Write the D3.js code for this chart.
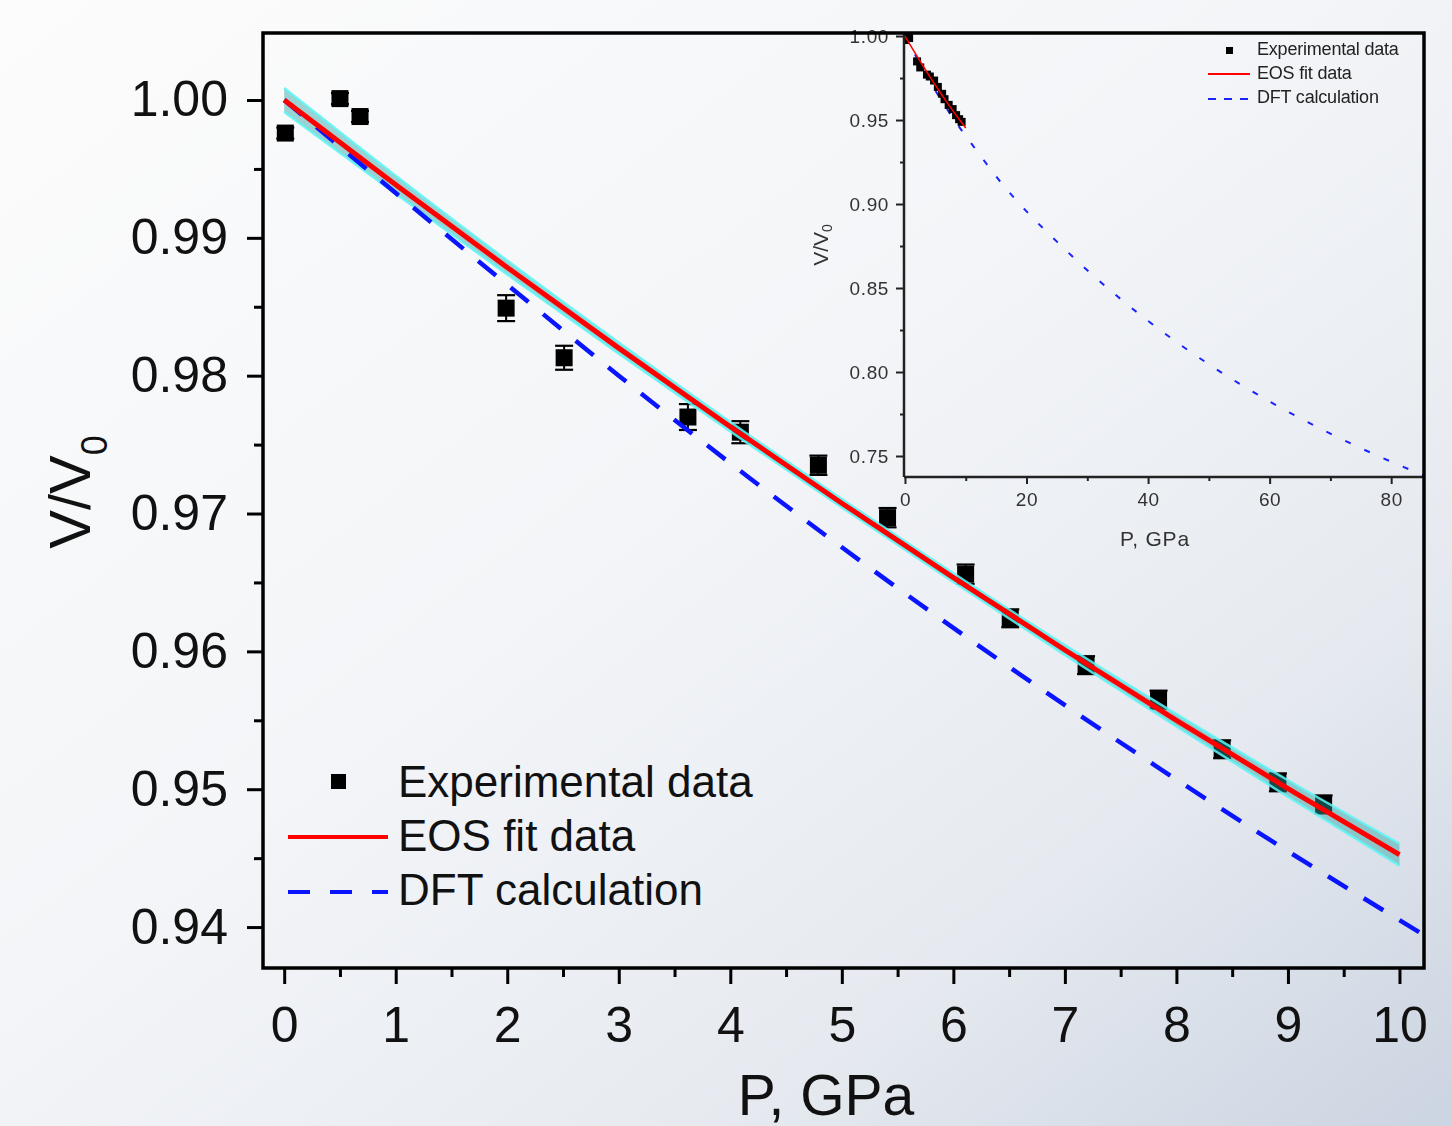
<!DOCTYPE html>
<html>
<head>
<meta charset="utf-8">
<script src="https://cdn.jsdelivr.net/npm/d3@7/dist/d3.min.js"></script>
<style>
  html, body { margin: 0; padding: 0; background: #ffffff; }
  svg { display: block; }
</style>
</head>
<body>
<svg id="chart" width="1452" height="1126"></svg>
<script>
// ---------- data ----------
// experimental compression points (P in GPa, relative volume, 1-sigma error)
const expPressure = [0.01, 0.50, 0.68, 1.99, 2.51, 3.62, 4.09, 4.79, 5.41, 6.11, 6.51, 7.19, 7.84, 8.41, 8.91, 9.32];
const expVolume   = [0.9976, 1.0001, 0.9988, 0.9849, 0.9813, 0.9770, 0.9759, 0.9735, 0.9697, 0.9656, 0.9624, 0.9590, 0.9565, 0.9529, 0.9505, 0.9489];
const expError    = [0.0004, 0.0004, 0.0004, 0.00094, 0.00087, 0.00094, 0.0008, 0.0007, 0.0007, 0.0007, 0.00065, 0.00065, 0.00065, 0.00065, 0.00065, 0.00065];

// equation-of-state fit with its confidence half-width
const fitPressure = [0, 1, 2, 3, 4, 5, 6, 7, 8, 9, 10];
const fitVolume   = [1.0000, 0.99385, 0.98785, 0.98200, 0.97630, 0.97075, 0.96535, 0.96010, 0.95500, 0.95005, 0.94525];
const fitBand     = [0.00087, 0.00066, 0.0005, 0.0004, 0.00034, 0.00031, 0.00032, 0.00036, 0.00045, 0.0006, 0.0008];

// DFT calculated compression curve
const dftPressure = [0, 1, 2, 3, 4, 5, 6, 7, 8, 9, 10, 11, 12, 13, 14, 15, 20, 25, 30, 35, 40, 45, 50, 55, 60, 65, 70, 75, 80, 85, 86];
const dftVolume   = [1.0000, 0.99325, 0.9866, 0.9800, 0.97365, 0.96755, 0.9617, 0.9561, 0.9507, 0.9455, 0.9405,
                     0.9356, 0.9307, 0.9259, 0.9211, 0.9164, 0.8956, 0.8776, 0.8606, 0.8449, 0.8304, 0.8170,
                     0.8046, 0.7931, 0.7824, 0.7725, 0.7633, 0.7547, 0.7466, 0.7390, 0.7375];

// axis ticks
const mainXTicks = [0, 1, 2, 3, 4, 5, 6, 7, 8, 9, 10];
const mainXMinor = [0.5, 1.5, 2.5, 3.5, 4.5, 5.5, 6.5, 7.5, 8.5, 9.5];
const mainYTicks = [0.94, 0.95, 0.96, 0.97, 0.98, 0.99, 1.00];
const mainYMinor = [0.945, 0.955, 0.965, 0.975, 0.985, 0.995];
const insetXTicks = [0, 20, 40, 60, 80];
const insetXMinor = [10, 30, 50, 70];
const insetYTicks = [0.75, 0.80, 0.85, 0.90, 0.95, 1.00];
const insetYMinor = [0.775, 0.825, 0.875, 0.925, 0.975];

const legendLabels = ["Experimental data", "EOS fit data", "DFT calculation"];

// ---------- setup ----------
const FONT = "'Liberation Sans', Arial, Helvetica, sans-serif";
const svg = d3.select("#chart");
const defs = svg.append("defs");

const grad = defs.append("linearGradient").attr("id", "bg")
  .attr("x1", "0").attr("y1", "0").attr("x2", "1").attr("y2", "1");
grad.append("stop").attr("offset", "0").attr("stop-color", "#fcfcfc");
grad.append("stop").attr("offset", "0.45").attr("stop-color", "#f3f5f8");
grad.append("stop").attr("offset", "0.75").attr("stop-color", "#e6eaf0");
grad.append("stop").attr("offset", "1").attr("stop-color", "#cbd4e1");
svg.append("rect").attr("width", 1452).attr("height", 1126).attr("fill", "url(#bg)");

defs.append("filter").attr("id", "soft")
  .append("feGaussianBlur").attr("stdDeviation", 0.45);

// main plot frame
const M = { left: 263, right: 1424, top: 33, bottom: 968 };
const x = d3.scaleLinear().domain([-0.19, 10.22]).range([M.left, M.right]);
const y = d3.scaleLinear().domain([0.93703, 1.00486]).range([M.bottom, M.top]);

defs.append("clipPath").attr("id", "mainClip").append("rect")
  .attr("x", M.left).attr("y", M.top).attr("width", M.right - M.left).attr("height", M.bottom - M.top);

const plot = svg.append("g").attr("clip-path", "url(#mainClip)");

const expData = expPressure.map((p, i) => ({ p, v: expVolume[i], e: expError[i] }));
const fitData = fitPressure.map((p, i) => ({ p, v: fitVolume[i], b: fitBand[i] }));
const dftData = dftPressure.map((p, i) => ({ p, v: dftVolume[i] }));

// experimental points with error bars
const pts = plot.append("g");
expData.forEach(d => {
  const g = pts.append("g");
  const cx = x(d.p), y1 = y(d.v + d.e), y2 = y(d.v - d.e);
  g.append("line").attr("x1", cx).attr("x2", cx).attr("y1", y1).attr("y2", y2)
    .attr("stroke", "#000").attr("stroke-width", 2);
  [y1, y2].forEach(yy => g.append("line").attr("x1", cx - 9).attr("x2", cx + 9)
    .attr("y1", yy).attr("y2", yy).attr("stroke", "#000").attr("stroke-width", 2.2));
  g.append("rect").attr("x", cx - 8.5).attr("y", y(d.v) - 8.5).attr("width", 17).attr("height", 17)
    .attr("fill", "#000");
});

// confidence band of the fit
const band = d3.area().x(d => x(d.p)).y0(d => y(d.v - d.b)).y1(d => y(d.v + d.b)).curve(d3.curveMonotoneX);
plot.append("path").datum(fitData).attr("d", band)
  .attr("fill", "rgb(40,165,165)").attr("fill-opacity", 0.45);
const edgeUp = d3.line().x(d => x(d.p)).y(d => y(d.v + d.b)).curve(d3.curveMonotoneX);
const edgeDn = d3.line().x(d => x(d.p)).y(d => y(d.v - d.b)).curve(d3.curveMonotoneX);
[edgeUp, edgeDn].forEach(fn => plot.append("path").datum(fitData).attr("d", fn)
  .attr("fill", "none").attr("stroke", "#5ff5f5").attr("stroke-width", 2.5).attr("stroke-opacity", 0.85));

// DFT curve
const lineMain = d3.line().x(d => x(d.p)).y(d => y(d.v)).curve(d3.curveMonotoneX);
plot.append("path").datum(dftData.filter(d => d.p <= 12)).attr("d", lineMain)
  .attr("fill", "none").attr("stroke", "#0a14ff").attr("stroke-width", 4.5)
  .attr("stroke-dasharray", "23,19");

// EOS fit curve
plot.append("path").datum(fitData).attr("d", lineMain)
  .attr("fill", "none").attr("stroke", "#ff0000").attr("stroke-width", 5);

// ---------- main axes ----------
const xAxis = svg.append("g").attr("transform", `translate(0,${M.bottom})`)
  .call(d3.axisBottom(x).tickValues(mainXTicks).tickFormat(d3.format("d")).tickSize(16).tickPadding(22));
const xMinor = svg.append("g").attr("transform", `translate(0,${M.bottom})`)
  .call(d3.axisBottom(x).tickValues(mainXMinor).tickFormat("").tickSize(9));
const yAxis = svg.append("g").attr("transform", `translate(${M.left},0)`)
  .call(d3.axisLeft(y).tickValues(mainYTicks).tickFormat(d3.format(".2f")).tickSize(16).tickPadding(19));
const yMinor = svg.append("g").attr("transform", `translate(${M.left},0)`)
  .call(d3.axisLeft(y).tickValues(mainYMinor).tickFormat("").tickSize(9));
[xAxis, xMinor, yAxis, yMinor].forEach(a => {
  a.select(".domain").remove();
  a.selectAll("line").attr("stroke", "#000").attr("stroke-width", 3);
  a.selectAll("text").attr("fill", "#111").style("font-family", FONT).style("font-size", "50px");
});
xAxis.selectAll("text").attr("dy", "0.71em");

// axis titles
svg.append("text").attr("x", 826).attr("y", 1115).attr("text-anchor", "middle")
  .style("font-family", FONT).style("font-size", "57px").attr("fill", "#111").text("P, GPa");
const yt = svg.append("text").attr("transform", "translate(90,492) rotate(-90)").attr("text-anchor", "middle")
  .style("font-family", FONT).style("font-size", "58px").attr("fill", "#111");
yt.append("tspan").text("V/V");
yt.append("tspan").attr("dy", 17).style("font-size", "36px").text("0");

// ---------- main legend ----------
const lg = svg.append("g");
const legendRows = [781, 835, 889];
lg.append("rect").attr("x", 331).attr("y", legendRows[0] - 7).attr("width", 15).attr("height", 15).attr("fill", "#000");
lg.append("line").attr("x1", 288).attr("x2", 388).attr("y1", legendRows[1] + 2).attr("y2", legendRows[1] + 2)
  .attr("stroke", "#ff0000").attr("stroke-width", 4);
lg.append("line").attr("x1", 288).attr("x2", 388).attr("y1", legendRows[2] + 3).attr("y2", legendRows[2] + 3)
  .attr("stroke", "#0a14ff").attr("stroke-width", 4).attr("stroke-dasharray", "22,20");
legendLabels.forEach((t, i) => lg.append("text").attr("x", 398).attr("y", legendRows[i])
  .attr("dy", "0.36em").style("font-family", FONT).style("font-size", "44px").attr("fill", "#111").text(t));

// ---------- inset ----------
const I = { left: 904, right: 1424, top: 33, bottom: 477 };
const xi = d3.scaleLinear().domain([-0.16, 85.4]).range([I.left, I.right]);
const yi = d3.scaleLinear().domain([0.7375, 1.0018]).range([I.bottom, I.top]);

defs.append("clipPath").attr("id", "insetClip").append("rect")
  .attr("x", I.left).attr("y", I.top).attr("width", I.right - I.left).attr("height", I.bottom - I.top);

const inset = svg.append("g").attr("filter", "url(#soft)");
const ip = inset.append("g").attr("clip-path", "url(#insetClip)");
const lineInset = d3.line().x(d => xi(d.p)).y(d => yi(d.v)).curve(d3.curveMonotoneX);

ip.append("path").datum(dftData).attr("d", lineInset)
  .attr("fill", "none").attr("stroke", "#1a22ff").attr("stroke-width", 2).attr("stroke-dasharray", "6,15");
expData.forEach(d => ip.append("rect").attr("x", xi(d.p) - 4).attr("y", yi(d.v) - 4)
  .attr("width", 8).attr("height", 8).attr("fill", "#000"));
ip.append("path").datum(fitData).attr("d", lineInset)
  .attr("fill", "none").attr("stroke", "#ff0000").attr("stroke-width", 1.5);

const ixA = inset.append("g").attr("transform", `translate(0,${I.bottom})`)
  .call(d3.axisBottom(xi).tickValues(insetXTicks).tickFormat(d3.format("d")).tickSize(7).tickPadding(9));
const ixM = inset.append("g").attr("transform", `translate(0,${I.bottom})`)
  .call(d3.axisBottom(xi).tickValues(insetXMinor).tickFormat("").tickSize(4));
const iyA = inset.append("g").attr("transform", `translate(${I.left},0)`)
  .call(d3.axisLeft(yi).tickValues(insetYTicks).tickFormat(d3.format(".2f")).tickSize(8).tickPadding(7));
const iyM = inset.append("g").attr("transform", `translate(${I.left},0)`)
  .call(d3.axisLeft(yi).tickValues(insetYMinor).tickFormat("").tickSize(4));
[ixA, ixM, iyA, iyM].forEach(a => {
  a.select(".domain").remove();
  a.selectAll("line").attr("stroke", "#222").attr("stroke-width", 2);
  a.selectAll("text").attr("fill", "#333").style("font-family", FONT).style("font-size", "19px")
    .style("letter-spacing", "0.6px");
});
inset.append("line").attr("x1", I.left).attr("x2", I.left).attr("y1", I.top).attr("y2", I.bottom)
  .attr("stroke", "#222").attr("stroke-width", 2.5);
inset.append("line").attr("x1", I.left).attr("x2", I.right).attr("y1", I.bottom).attr("y2", I.bottom)
  .attr("stroke", "#222").attr("stroke-width", 2.5);

inset.append("text").attr("x", 1155).attr("y", 546).attr("text-anchor", "middle")
  .style("font-family", FONT).style("font-size", "21px").style("letter-spacing", "0.8px")
  .attr("fill", "#333").text("P, GPa");
const iyt = inset.append("text").attr("transform", "translate(828,245) rotate(-90)").attr("text-anchor", "middle")
  .style("font-family", FONT).style("font-size", "21px").attr("fill", "#333");
iyt.append("tspan").text("V/V");
iyt.append("tspan").attr("dy", 4).style("font-size", "14px").text("0");

// inset legend
const il = inset.append("g");
const iRows = [49, 73, 97];
il.append("rect").attr("x", 1226).attr("y", iRows[0] - 2).attr("width", 7).attr("height", 7).attr("fill", "#000");
il.append("line").attr("x1", 1208).attr("x2", 1250).attr("y1", iRows[1] + 1).attr("y2", iRows[1] + 1)
  .attr("stroke", "#ff0000").attr("stroke-width", 1.8);
il.append("line").attr("x1", 1208).attr("x2", 1250).attr("y1", iRows[2] + 2).attr("y2", iRows[2] + 2)
  .attr("stroke", "#1a22ff").attr("stroke-width", 2).attr("stroke-dasharray", "8,8");
legendLabels.forEach((t, i) => il.append("text").attr("x", 1257).attr("y", iRows[i]).attr("dy", "0.36em")
  .style("font-family", FONT).style("font-size", "18px").style("letter-spacing", "-0.2px")
  .attr("fill", "#222").text(t));

// ---------- main frame ----------
svg.append("rect").attr("x", M.left).attr("y", M.top).attr("width", M.right - M.left).attr("height", M.bottom - M.top)
  .attr("fill", "none").attr("stroke", "#000").attr("stroke-width", 3.5);
</script>
</body>
</html>
